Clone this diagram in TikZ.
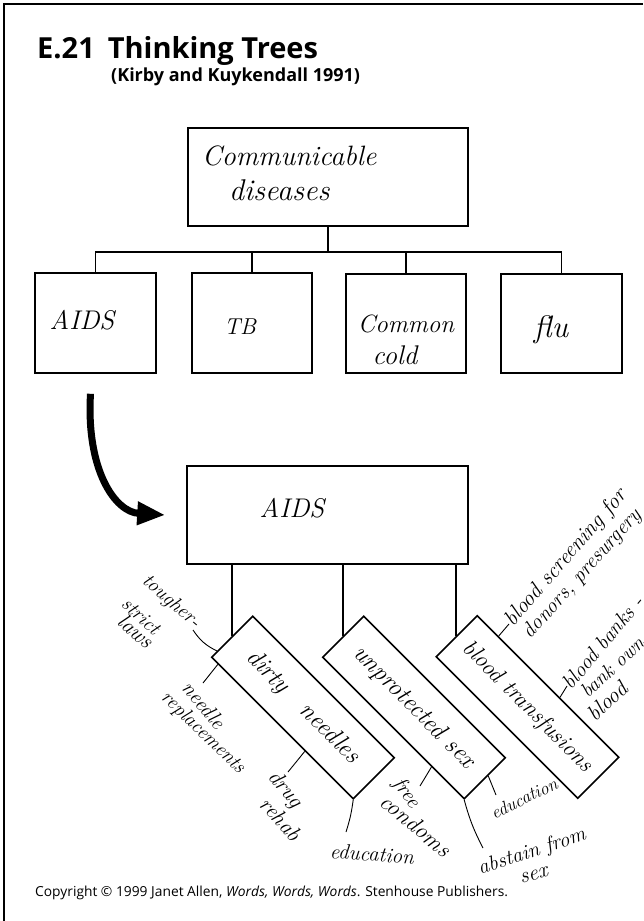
\documentclass[tikz,border=0pt]{standalone}
\usepackage{fontspec}
\newfontfamily\printfont{Open Sans}
\usetikzlibrary{arrows.meta,calc}
\newcommand{\pensize}[1]{\fontsize{#1}{#1}\selectfont\itshape}

\tikzset{
  box/.style={draw, line width=1.6pt, inner sep=0pt},
  tree/.style={line width=1.6pt},
  twig/.style={line width=0.9pt},
  pen/.style={inner sep=0pt, font=\pensize{20}},
  bigarrow/.style={line width=7pt, -{Triangle[length=28pt,width=22pt]}},
}

\begin{document}
\begin{tikzpicture}[x=1pt,y=-1pt]
\useasboundingbox (0,0) rectangle (643,921);

% page frame: top and left edges
\draw[line width=1.5pt] (4,921) -- (4,4) -- (643,4);

% heading
\node[anchor=base west, inner sep=0pt, font=\printfont\bfseries\fontsize{29}{32}\selectfont]
  (title) at (37,58) {E.21\hspace{0.45em}Thinking Trees};
\node[anchor=base west, inner sep=0pt, font=\printfont\bfseries\fontsize{18}{21}\selectfont]
  (source) at (111,81) {(Kirby and Kuykendall 1991)};

% first tree
\node[box, minimum width=280pt, minimum height=98pt] (cd) at (328,177) {};
\node[pen, anchor=base west, font=\pensize{28}] (cdtext1) at (202,165) {Communicable};
\node[pen, anchor=base west, font=\pensize{30}] (cdtext2) at (229,200) {diseases};

\node[box, minimum width=121pt, minimum height=100pt] (aids1) at (95.5,323) {};
\node[box, minimum width=120pt, minimum height=100pt] (tb) at (252,323) {};
\node[box, minimum width=120pt, minimum height=99pt] (cold) at (406,323.5) {};
\node[box, minimum width=121pt, minimum height=99pt] (flu) at (561.5,323.5) {};

\node[pen, font=\pensize{27}] (aids1text) at (82,320) {AIDS};
\node[pen, font=\pensize{23}] (tbtext) at (240,327) {TB};
\node[pen, font=\pensize{25}] (coldtext1) at (406,324) {Common};
\node[pen, font=\pensize{27}] (coldtext2) at (395,355) {cold};
\node[pen, font=\pensize{31}] (flutext) at (551,330) {flu};

\coordinate (junction) at (328,252);
\draw[tree] (cd.south) -- (junction);
\draw[tree] (aids1.north) |- (junction) -| (flu.north);
\draw[tree] (tb.north) -- (tb.north |- junction);
\draw[tree] (cold.north) -- (cold.north |- junction);

% second tree
\node[box, minimum width=281pt, minimum height=98pt] (aids2) at (327.5,515) {};
\node[pen, font=\pensize{27}] (aids2text) at (292,508) {AIDS};

% arrow from the first tree down to the second
\draw[bigarrow] ([shift={(-5pt,-20pt)}]aids1.south)
  .. controls (86,470) and (115,512) .. ([xshift=-21pt]aids2.west);

\node[box, rotate=-45, minimum width=200pt, minimum height=58pt, font=\pensize{25}]
  (dirty) at (303,707.5) {dirty\quad needles};
\node[box, rotate=-45, minimum width=200pt, minimum height=58pt, font=\pensize{25}]
  (unprot) at (414,707.5) {unprotected sex};
\node[box, rotate=-45, minimum width=200pt, minimum height=58pt, font=\pensize{23}]
  (blood) at (527.5,707) {blood transfusions};

\foreach \b in {dirty,unprot,blood}
  \draw[tree] (aids2.south -| \b.west) -- (\b.west);

% answers written around the branches
\coordinate (toughend) at (193,630);
\coordinate (needleend) at (203,683);
\coordinate (drugend) at (288,772);
\coordinate (educend) at (346,832);
\coordinate (freeend) at (420,786);
\coordinate (educend2) at (496,795);
\coordinate (abstainend) at (483,848);
\coordinate (screenend) at (509,624);
\coordinate (banksend) at (567,686);

\draw[twig] ($(dirty.south west)!0.15!(dirty.north west)$) to[bend left=15] (toughend);
\draw[twig] ($(dirty.south west)!0.05!(dirty.south east)$) -- (needleend);
\draw[twig] ($(dirty.south west)!0.66!(dirty.south east)$) -- (drugend);
\draw[twig] (dirty.south east) to[bend left=5] (educend);
\draw[twig] ($(unprot.south west)!0.77!(unprot.south east)$) -- (freeend);
\draw[twig] ($(unprot.south east)!0.57!(unprot.north east)$) -- (educend2);
\draw[twig] (unprot.south east) to[bend right=6] (abstainend);
\draw[twig] ($(blood.north west)!0.15!(blood.north east)$) -- (screenend);
\draw[twig] ($(blood.north west)!0.58!(blood.north east)$) -- (banksend);

\node[pen, rotate=-41, font=\pensize{20}] (tough1) at (171,602) {tougher-};
\node[pen, rotate=-42, font=\pensize{20}] (tough2) at (141,616) {strict};
\node[pen, rotate=-42, font=\pensize{22}] (tough3) at (136,631) {laws};

\node[pen, rotate=-50, font=\pensize{21}] (needle1) at (204,705) {needle};
\node[pen, rotate=-44, font=\pensize{20}] (needle2) at (203,733) {replacements};

\node[pen, rotate=-50, font=\pensize{22}] (drug1) at (285,790) {drug};
\node[pen, rotate=-48, font=\pensize{22}] (drug2) at (281,819) {rehab};

\node[pen, rotate=-4, font=\pensize{21}] (educ1) at (372,854) {education};

\node[pen, rotate=-55, font=\pensize{21}] (free1) at (406,793) {free};
\node[pen, rotate=-40, font=\pensize{23}] (free2) at (416,825) {condoms};

\node[pen, rotate=26, font=\pensize{18}] (educ2) at (524,798) {education};

\node[pen, rotate=18, font=\pensize{21}] (abstain1) at (532,852) {abstain from};
\node[pen, rotate=15, font=\pensize{22}] (abstain2) at (534,875) {sex};

\node[pen, rotate=49, anchor=west, font=\pensize{22}] (screen1) at (509,624) {blood screening for};
\node[pen, rotate=48, anchor=west, font=\pensize{21}] (screen2) at (527,636) {donors, presurgery};

\node[pen, rotate=50, anchor=west, font=\pensize{21}] (banks1) at (566,686) {blood banks -};
\node[pen, rotate=43, anchor=west, font=\pensize{20}] (banks2) at (583,694) {bank own};
\node[pen, rotate=43, anchor=west, font=\pensize{22}] (banks3) at (590,717) {blood};

% footer
\node[anchor=base west, inner sep=0pt, font=\printfont\fontsize{13.8}{16}\selectfont]
  (copyright) at (35,896)
  {Copyright \textcopyright{} 1999 Janet Allen, \textit{Words, Words, Words}. Stenhouse Publishers.};
\end{tikzpicture}
\end{document}
